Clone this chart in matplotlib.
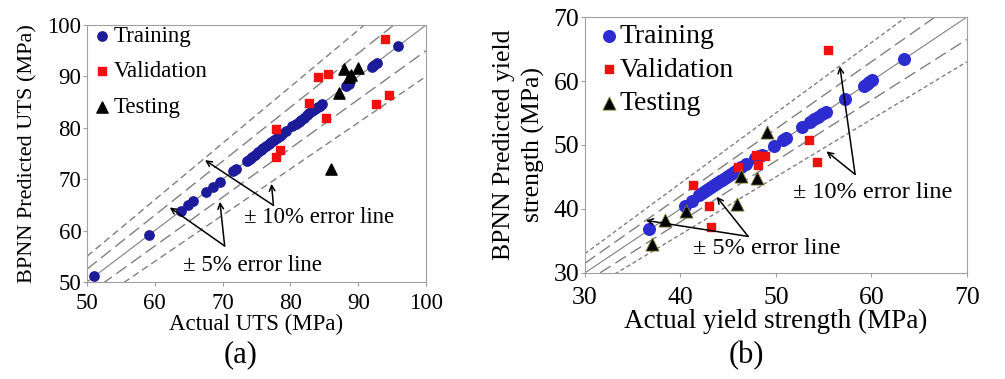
import numpy as np
import matplotlib.pyplot as plt

plt.rcParams['font.family'] = ['Liberation Serif', 'DejaVu Serif']

# ---- panel (a): UTS ----
uts_train_x = [51.1, 59.2, 63.9, 64.9, 65.6, 67.6, 68.6, 69.6, 71.5, 71.9,
               73.6, 74.0, 74.4, 74.8, 75.2, 75.6, 76.0, 76.4, 76.8, 77.2,
               77.6, 78.0, 78.4, 78.8, 79.3, 80.3, 80.8, 81.2, 81.6, 82.0,
               82.4, 82.8, 83.2, 83.6, 84.0, 84.4, 84.7, 88.2, 88.6,
               92.0, 92.4, 92.7, 95.9]
uts_train_y = [51.1, 59.1, 63.9, 64.9, 65.7, 67.5, 68.5, 69.5, 71.6, 71.9,
               73.6, 74.0, 74.4, 74.8, 75.2, 75.6, 76.0, 76.4, 76.8, 77.2,
               77.6, 78.0, 78.4, 78.8, 79.3, 80.3, 80.8, 81.2, 81.6, 82.0,
               82.4, 82.8, 83.2, 83.6, 84.0, 84.3, 84.6, 88.2, 88.6,
               91.9, 92.2, 92.6, 95.9]
uts_val_x = [77.9, 77.8, 78.5, 82.8, 84.1, 85.5, 85.2, 94.0, 92.6, 94.6]
uts_val_y = [79.7, 74.3, 75.6, 84.9, 89.8, 90.4, 82.0, 97.2, 84.7, 86.4]
uts_test_x = [87.1, 86.0, 87.9, 88.6, 89.0, 90.0]
uts_test_y = [86.8, 71.9, 91.4, 89.8, 90.3, 91.7]

# ---- panel (b): yield strength ----
ys_train_x = [36.7, 40.5, 41.2, 42.0, 42.3, 42.6, 42.9, 43.2, 43.5, 43.8,
              44.1, 44.4, 44.7, 45.0, 45.3, 45.6, 45.9, 46.3, 46.9, 47.8,
              48.2, 48.5, 49.8, 50.8, 51.1, 52.7, 53.6, 54.0, 54.4, 54.8,
              55.2, 57.2, 59.2, 59.5, 59.8, 60.1, 63.4]
ys_train_y = [36.8, 40.5, 41.3, 42.2, 42.5, 42.8, 43.1, 43.4, 43.7, 44.0,
              44.3, 44.6, 44.9, 45.2, 45.5, 45.8, 46.1, 46.5, 47.0, 47.9,
              48.2, 48.5, 49.8, 50.8, 51.1, 52.8, 53.6, 54.0, 54.4, 54.8,
              55.2, 57.2, 59.2, 59.5, 59.8, 60.1, 63.4]
ys_val_x = [55.5, 41.3, 43.0, 43.2, 46.0, 47.9, 48.1, 48.9, 53.5, 54.3]
ys_val_y = [64.9, 43.8, 40.4, 37.1, 46.5, 48.5, 46.8, 48.2, 50.8, 47.4]
ys_test_x = [37.0, 38.4, 40.6, 45.9, 46.4, 48.0, 49.1]
ys_test_y = [34.5, 38.2, 39.6, 40.8, 45.2, 44.8, 52.0]

fig = plt.figure(figsize=(10.05, 3.79), dpi=100)
ax1 = fig.add_axes([0.0866, 0.256, 0.3373, 0.678])
ax2 = fig.add_axes([0.582, 0.280, 0.380, 0.675])

grey = '#808080'


def error_lines(ax, lo, hi, d10, d5):
    xx = np.array([lo, hi])
    ax.plot(xx, xx, color=grey, lw=0.8, zorder=1)
    for f in (1.1, 0.9):
        ax.plot(xx, xx * f, color=grey, lw=1.0, dashes=d10, zorder=1)
    for f in (1.05, 0.95):
        ax.plot(xx, xx * f, color=grey, lw=1.0, dashes=d5, zorder=1)
    ax.set_xlim(lo, hi)
    ax.set_ylim(lo, hi)
    for s in ax.spines.values():
        s.set_color('#a0a0a0')
    ax.tick_params(direction='out', length=3, color='#a0a0a0', width=0.8)


def arrows(ax, text, tpos, origin, tips, fs):
    ax.text(tpos[0], tpos[1], text, fontsize=fs, va='center', ha='left')
    for t in tips:
        ax.annotate('', xy=t, xytext=origin,
                    arrowprops=dict(arrowstyle='->', color='black', lw=1.1,
                                    shrinkA=0, shrinkB=0))


# (a)
error_lines(ax1, 50, 100, (5, 3), (9, 4))
ax1.scatter(uts_train_x, uts_train_y, s=45, marker='o', color='#1c1c9a',
            label='Training', zorder=3)
ax1.scatter(uts_val_x, uts_val_y, s=30, marker='s', color='#f01010',
            label='Validation', zorder=3)
ax1.scatter(uts_test_x, uts_test_y, s=65, marker='^', color='black',
            label='Testing', zorder=3)
ax1.set_xticks(np.arange(50, 101, 10))
ax1.set_yticks(np.arange(50, 101, 10))
ax1.tick_params(labelsize=16.5, pad=1)
ax1.tick_params(axis='x', pad=5)
ax1.set_xlabel('Actual UTS (MPa)', fontsize=16.5, labelpad=0)
ax1.set_ylabel('BPNN Predicted UTS (MPa)', fontsize=16, labelpad=7)
ax1.legend(loc='upper left', frameon=False, fontsize=16.5, handletextpad=-0.1,
           labelspacing=0.62, borderaxespad=0.0, handlelength=1.2,
           borderpad=0.05)
arrows(ax1, '± 10% error line', (73.2, 62.5), (77.5, 64.9),
       [(67.4, 73.7), (77.2, 69.1)], 16.5)
arrows(ax1, '± 5% error line', (64.2, 53.2), (70.3, 57.0),
       [(62.2, 64.5), (69.6, 65.6)], 16.5)
fig.text(0.239, 0.063, '(a)', fontsize=22, ha='center', va='center')

# (b)
error_lines(ax2, 30, 70, (3, 2), (9, 4))
ax2.scatter(ys_train_x, ys_train_y, s=70, marker='o', color='#2c2cd0',
            label='Training', zorder=3)
ax2.scatter(ys_val_x, ys_val_y, s=40, marker='s', color='#f01010',
            label='Validation', zorder=3)
ax2.scatter(ys_test_x, ys_test_y, s=90, marker='^', color='black',
            edgecolor='#8a8a40', linewidth=0.6, label='Testing', zorder=3)
ax2.set_xticks(np.arange(30, 71, 10))
ax2.set_yticks(np.arange(30, 71, 10))
ax2.tick_params(labelsize=18.5, pad=1)
ax2.tick_params(axis='x', pad=7)
ax2.set_xlabel('Actual yield strength (MPa)', fontsize=19.5, labelpad=0)
ax2.set_ylabel('BPNN Predicted yield\nstrength (MPa)', fontsize=18.5,
               labelpad=6, linespacing=1.4)
ax2.legend(loc='upper left', frameon=False, fontsize=20, handletextpad=-0.2,
           labelspacing=0.28, borderaxespad=0.0, handlelength=1.2,
           borderpad=0.25)
arrows(ax2, '± 10% error line', (51.8, 42.5), (58.3, 45.4),
       [(56.7, 62.3), (55.3, 49.0)], 17.5)
arrows(ax2, '± 5% error line', (41.3, 33.8), (47.1, 35.7),
       [(36.4, 38.2), (43.8, 41.9)], 17.5)
fig.text(0.743, 0.063, '(b)', fontsize=22, ha='center', va='center')

fig.savefig('out.png', dpi=100)
